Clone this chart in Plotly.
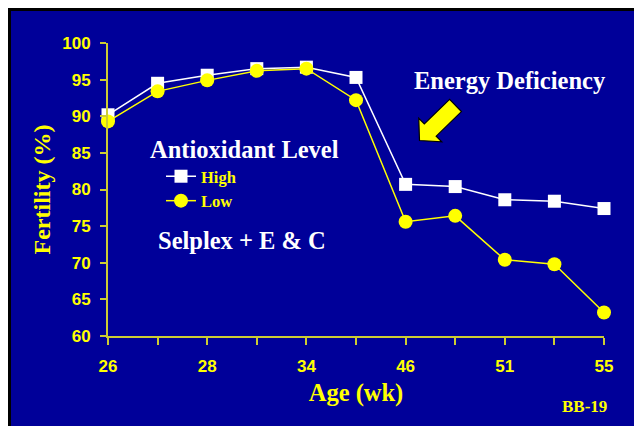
import plotly.graph_objects as go
import math

# ---- data ----
ages = ["26", "27", "28", "31", "34", "40", "46", "48", "51", "53", "55"]
shown_labels = ["26", "", "28", "", "34", "", "46", "", "51", "", "55"]
high = [90.2, 94.5, 95.6, 96.5, 96.7, 95.3, 80.7, 80.4, 78.6, 78.4, 77.4]
low = [89.3, 93.4, 94.9, 96.2, 96.5, 92.2, 75.6, 76.4, 70.4, 69.8, 63.2]

OFF = 8  # page body margin
W, H = 631, 424
L, R, T = 100, 35, 35
B = H - 328
PW, PH = W - L - R, H - T - B

def px(x):  # screen px -> paper x
    return (x - OFF - L) / PW

def py(y):  # screen px -> paper y
    return (H - B - (y - OFF)) / PH

BLUE = "#000099"
YEL = "#FFFF00"
AX = "#CCCC33"
SERIF = "Liberation Serif, Times New Roman, serif"
SANS = "Liberation Sans, Arial, sans-serif"

idx = list(range(len(ages)))

fig = go.Figure()
fig.add_trace(go.Scatter(
    x=idx, y=high, name="High", mode="lines+markers",
    line=dict(color="white", width=1.5),
    marker=dict(symbol="square", size=13, color="white"),
    cliponaxis=False,
))
fig.add_trace(go.Scatter(
    x=idx, y=low, name="Low", mode="lines+markers",
    line=dict(color=YEL, width=1.5),
    marker=dict(symbol="circle", size=14, color=YEL),
    cliponaxis=False,
))

shapes = []
# figure border
shapes.append(dict(type="rect", xref="paper", yref="paper",
                   x0=(1.5 - L) / PW, x1=(W - 1.5 - L) / PW,
                   y0=(H - B - (H - 1.5)) / PH, y1=(H - B - 1.5) / PH,
                   line=dict(color="black", width=3), layer="above"))

# block arrow (Energy Deficiency)
tail = (455.5, 105.5)
tip = (419.5, 140.5)
dx, dy = tip[0] - tail[0], tip[1] - tail[1]
ln = math.hypot(dx, dy)
d = (dx / ln, dy / ln)
n = (-d[1], d[0])
hb = (tip[0] - d[0] * 15, tip[1] - d[1] * 15)
sw, hw = 8.5, 16.5
pts = [
    (tail[0] + n[0] * sw, tail[1] + n[1] * sw),
    (hb[0] + n[0] * sw, hb[1] + n[1] * sw),
    (hb[0] + n[0] * hw, hb[1] + n[1] * hw),
    tip,
    (hb[0] - n[0] * hw, hb[1] - n[1] * hw),
    (hb[0] - n[0] * sw, hb[1] - n[1] * sw),
    (tail[0] - n[0] * sw, tail[1] - n[1] * sw),
]
path = "M " + " L ".join(f"{px(a):.5f},{py(b):.5f}" for a, b in pts) + " Z"
shapes.append(dict(type="path", xref="paper", yref="paper", path=path,
                   fillcolor=YEL, line=dict(color="black", width=1.2)))

def note(text, x, y, size, color):
    return dict(text=text, x=px(x), y=py(y), xref="paper", yref="paper",
                xanchor="center", yanchor="middle", showarrow=False,
                font=dict(family=SERIF, size=size, color=color, weight="bold"))

annotations = [
    note("Energy Deficiency", 510, 80, 24.5, "white"),
    note("Antioxidant Level", 244, 149, 24.5, "white"),
    note("Selplex + E &amp; C", 242, 240, 24.5, "white"),
    note("BB-19", 584, 406, 17, YEL),
]

fig.update_layout(
    width=W, height=H,
    margin=dict(l=L, r=R, t=T, b=B, pad=0),
    paper_bgcolor=BLUE,
    plot_bgcolor=BLUE,
    shapes=shapes,
    annotations=annotations,
    showlegend=True,
    legend=dict(x=px(161), y=py(159), xanchor="left", yanchor="top",
                bgcolor="rgba(0,0,0,0)", itemwidth=30, tracegroupgap=0,
                font=dict(family=SERIF, size=16.5, color=YEL, weight="bold")),
    xaxis=dict(range=[0, 10], tickmode="array", tickvals=idx, ticktext=shown_labels,
               showgrid=False, zeroline=False, showline=True, linecolor=AX, linewidth=2,
               ticks="outside", ticklen=7, tickcolor=AX, tickwidth=2,
               tickfont=dict(family=SANS, size=17, color=YEL, weight="bold"),
               ticklabelstandoff=7,
               title=dict(text="Age (wk)", standoff=8,
                          font=dict(family=SERIF, size=24.5, color=YEL, weight="bold"))),
    yaxis=dict(range=[60, 100], tickvals=[60, 65, 70, 75, 80, 85, 90, 95, 100],
               showgrid=False, zeroline=False, showline=True, linecolor=AX, linewidth=2,
               ticks="outside", ticklen=6, tickcolor=AX, tickwidth=2,
               tickfont=dict(family=SANS, size=17, color=YEL, weight="bold"),
               ticklabelstandoff=6,
               title=dict(text="Fertility (%)", standoff=5,
                          font=dict(family=SERIF, size=24, color=YEL, weight="bold"))),
)

fig.write_html("out.html")
